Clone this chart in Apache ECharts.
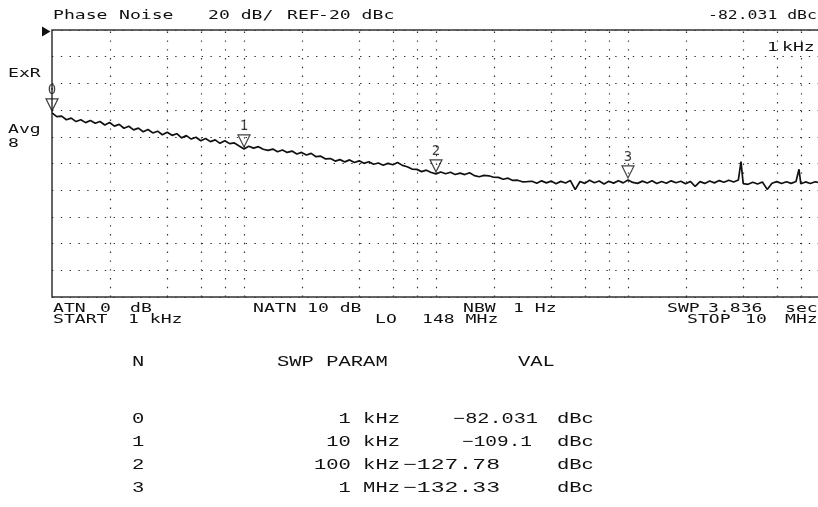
<!DOCTYPE html>
<html><head><meta charset="utf-8">
<script src="https://cdn.jsdelivr.net/npm/echarts@6/dist/echarts.min.js"></script>
<style>html,body{margin:0;padding:0;background:#fff}#c{width:818px;height:507px}</style>
</head><body><div id="c"></div>
<script>
// ---- data ----
const freqKHz = [
1,1.059,1.122,1.189,1.259,1.334,1.413,1.496,1.585,1.679,1.778,1.884,1.995,2.113,2.239,2.371,2.512,2.661,2.818,2.985,3.162,3.35,3.548,3.758,3.981,4.217,4.467,4.732,5.012,5.309,5.623,5.957,6.31,6.683,7.079,7.499,7.943,8.414,8.913,9.441,
10,10.59,11.22,11.89,12.59,13.34,14.13,14.96,15.85,16.79,17.78,18.84,19.95,21.13,22.39,23.71,25.12,26.61,28.18,29.85,31.62,33.5,35.48,37.58,39.81,42.17,44.67,47.32,50.12,53.09,56.23,59.57,63.1,66.83,70.79,74.99,79.43,84.14,89.13,94.41,
100,105.9,112.2,118.9,125.9,133.4,141.3,149.6,158.5,167.9,177.8,188.4,199.5,211.3,223.9,237.1,251.2,266.1,281.8,298.5,316.2,335,354.8,375.8,398.1,421.7,446.7,473.2,501.2,530.9,562.3,595.7,631,668.3,707.9,749.9,794.3,841.4,891.3,944.1,
1000,1059,1122,1189,1259,1334,1413,1496,1585,1679,1778,1884,1995,2113,2239,2371,2512,2661,2818,2985,3162,3350,3548,3758,3877,3981,4217,4467,4732,5012,5309,5623,5957,6310,6683,7079,7499,7775,7943,8414,8913,9441,
10000];
const traceDb = [
-82.03,-84.9,-84.5,-87.2,-86.0,-88.6,-87.2,-89.4,-87.8,-89.9,-88.5,-91.2,-89.3,-92.0,-90.7,-93.6,-92.1,-94.8,-93.5,-96.2,-94.5,-97.1,-95.8,-98.5,-96.6,-98.9,-97.7,-100.8,-99.1,-101.7,-100.3,-103.0,-101.3,-103.6,-102.3,-104.9,-102.9,-105.1,-104.6,-106.9,
-109.1,-107.1,-108.5,-107.4,-109.3,-110.2,-109.2,-111.2,-109.9,-111.7,-110.7,-112.9,-111.7,-113.6,-112.4,-114.9,-114.5,-116.6,-116.3,-118.2,-117.1,-118.8,-117.3,-119.2,-118.0,-119.9,-118.7,-120.6,-119.6,-121.3,-119.9,-120.9,-119.2,-121.4,-122.4,-124.2,-124.4,-126.1,-125.0,-126.7,
-127.78,-126.4,-127.7,-126.6,-128.2,-127.2,-128.3,-126.9,-129.1,-129.9,-128.9,-129.2,-130.3,-130.4,-131.8,-131.0,-132.7,-132.5,-133.7,-133.6,-133.3,-134.8,-133.0,-134.5,-133.2,-135.1,-133.4,-134.6,-132.8,-139.6,-133.5,-134.9,-132.6,-134.4,-133.1,-135.3,-133.3,-134.7,-132.9,-134.5,
-132.33,-134.2,-134.9,-133.2,-134.6,-132.9,-135.0,-133.5,-134.8,-133.0,-134.4,-133.3,-135.2,-133.4,-137.2,-133.6,-134.9,-133.1,-134.5,-132.8,-134.1,-132.6,-133.9,-132.3,-118.6,-135.1,-135.6,-134.1,-135.4,-133.9,-139.4,-134.8,-133.6,-135.0,-133.7,-134.9,-133.5,-124.3,-135.2,-133.8,-135.0,-133.7,
-134.4];
const markerFreqKHz = [1, 10, 100, 1000];
const markerDb = [-82.031, -109.1, -127.78, -132.33];
const markerNames = ['0', '1', '2', '3'];
const gridFreqKHz = [2,4,6,8,10,20,40,60,80,100,200,400,600,800,1000,2000,4000,6000,8000];
const yMin = -220, yMax = -20, yStep = 20;

// ---- helpers ----
function fmtFreq(k) { return k >= 1000 ? (k / 1000) + ' MHz' : k + ' kHz'; }
const MONO_FONT = '11.5px "DejaVu Sans Mono", monospace';
const TAB_FONT = '14.5px "Liberation Mono", monospace';
const measCtx = document.createElement('canvas').getContext('2d');
function textW(text, font) { measCtx.font = font; return measCtx.measureText(text).width; }
// pitch = horizontal advance per character in the reference screen font
function t(text, x, y, opt) {
  opt = opt || {};
  const font = opt.font || MONO_FONT;
  const pitch = opt.pitch || 10.9;
  const sx = opt.sx || (text.length * pitch) / textW(text, font);
  return { type: 'text', x: x, y: y, scaleX: sx, silent: true, z: 20,
    style: { text: text, fill: '#111', font: font,
      align: opt.align || 'left', verticalAlign: 'middle' } };
}
const graphics = [
  { type: 'polygon', shape: { points: [[42, 26.5], [50.5, 31.5], [42, 36.5]] }, style: { fill: '#111' }, silent: true },
  t('Phase', 53, 16), t('Noise', 119, 16), t('20 dB/', 208, 16), t('REF', 287, 16), t('-20 dBc', 318, 16),
  t(markerDb[0].toFixed(3) + ' dBc', 708, 16, { pitch: 9.9 }),
  t('1', 767, 48), t('kHz', 782, 48),
  t('ExR', 8, 74), t('Avg', 8, 130), t('8', 8, 144),
  t('ATN', 53, 309), t('0', 100, 309), t('dB', 130, 309),
  t('NATN', 253, 309), t('10 dB', 307, 309),
  t('NBW', 463, 309), t('1 Hz', 513, 309),
  t('SWP', 667, 309), t('3.836', 708, 309), t('sec', 785, 309),
  t('START', 53, 320), t('1 kHz', 128, 320), t('LO', 375, 320), t('148 MHz', 422, 320),
  t('STOP', 687, 320), t('10', 745, 320), t('MHz', 785, 320)
];
// table
const TS = { font: TAB_FONT, pitch: 12.3 };
graphics.push(t('N', 132, 362, TS), t('SWP PARAM', 277, 362, TS), t('VAL', 518, 362, TS));
const rowY = [419, 442, 465, 488];
const valX = [453, 462, 403, 403];
const valEndX = [538, 532, 500, 500];
markerNames.forEach(function (n, i) {
  graphics.push(t(n, 132, rowY[i], TS));
  graphics.push(t(fmtFreq(markerFreqKHz[i]), 400, rowY[i], Object.assign({}, TS, { align: 'right' })));
  const vs = String(markerDb[i]).replace('-', '\u2212');
  graphics.push(t(vs, valX[i], rowY[i], { font: TAB_FONT, sx: (valEndX[i] - valX[i]) / textW(vs, TAB_FONT) }));
  graphics.push(t('dBc', 557, rowY[i], TS));
});

const dotted = { color: '#333', width: 1.2, type: [1.4, 7.4] };
const chart = echarts.init(document.getElementById('c'));
chart.setOption({
  animation: false,
  backgroundColor: '#fff',
  grid: { left: 52, top: 30, width: 768, height: 267, show: true, borderColor: '#333', borderWidth: 1.5,
    backgroundColor: 'transparent', outerBoundsMode: 'none', containLabel: false },
  xAxis: { type: 'log', logBase: 10, min: 1, max: 10000,
    axisLine: { show: false }, axisTick: { show: false }, axisLabel: { show: false }, splitLine: { show: false } },
  yAxis: { type: 'value', min: yMin, max: yMax, interval: yStep,
    axisLine: { show: false }, axisTick: { show: false }, axisLabel: { show: false },
    splitLine: { show: true, lineStyle: dotted } },
  series: [
    { type: 'line', data: freqKHz.map(function (f, i) { return [f, traceDb[i]]; }),
      symbol: 'none', lineStyle: { color: '#111', width: 1.7 }, z: 5, silent: true,
      markLine: { silent: true, symbol: 'none', label: { show: false }, lineStyle: dotted,
        data: gridFreqKHz.map(function (f) { return { xAxis: f }; }) } },
    { type: 'scatter', clip: false, z: 10, silent: true,
      data: markerFreqKHz.map(function (f, i) { return { value: [f, markerDb[i]], name: markerNames[i] }; }),
      symbol: 'path://M0,0 L12,0 L6,12 Z', symbolSize: [12, 12], symbolOffset: [0, -8],
      itemStyle: { color: 'rgba(255,255,255,0)', borderColor: '#111', borderWidth: 1.2 },
      label: { show: true, position: 'top', distance: 1, formatter: function (p) { return p.name; },
        fontFamily: 'DejaVu Sans Mono', fontSize: 14, color: '#111' } }
  ],
  graphic: graphics
});
</script></body></html>
